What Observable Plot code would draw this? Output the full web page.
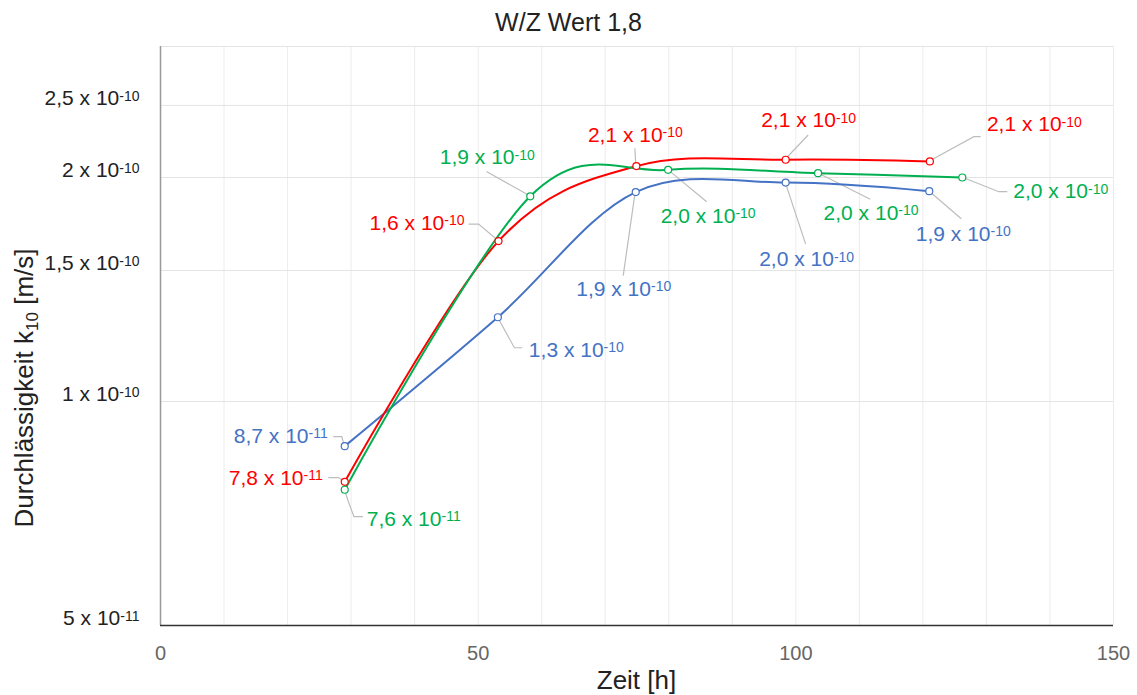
<!DOCTYPE html>
<html><head><meta charset="utf-8">
<script src="https://cdn.jsdelivr.net/npm/d3@7"></script>
<script src="https://cdn.jsdelivr.net/npm/@observablehq/plot@0.6"></script>
<style>
html,body{margin:0;padding:0;background:#fff;}
#title{height:32px;padding-top:8px;text-align:center;font-family:"Liberation Sans",Arial,sans-serif;font-size:25px;line-height:1.149;color:#222;}
</style></head><body>
<div id="title">W/Z Wert 1,8</div>
<div id="chart"></div>
<script>
// ---- data ----
const timeBlue  = [29.0, 53.1, 74.8, 98.4, 121.0];
const kBlue     = [0.871e-10, 1.298e-10, 1.912e-10, 1.969e-10, 1.917e-10];
const timeRed   = [29.0, 53.2, 74.9, 98.4, 121.1];
const kRed      = [0.780e-10, 1.643e-10, 2.072e-10, 2.113e-10, 2.102e-10];
const timeGreen = [29.0, 58.2, 79.9, 103.5, 126.2];
const kGreen    = [0.761e-10, 1.887e-10, 2.048e-10, 2.027e-10, 2.000e-10];

const xTicks = [0, 50, 100, 150];
const xGrid  = [10, 20, 30, 40, 50, 60, 70, 80, 90, 100, 110, 120, 130, 140, 150];
const yTicks = [5e-11, 1e-10, 1.5e-10, 2e-10, 2.5e-10];
const yGrid  = [1e-10, 1.5e-10, 2e-10, 2.5e-10, 3e-10];

// ---- label layout (pixel offsets from the point) ----
const layoutBlue = [
  {dx: -17, dy: -10, anchor: "end",    leader: [[-2.5, -9], [-11, -9]]},
  {dx: 31,  dy: 33,  anchor: "start",  leader: [[17, 31], [25, 31]]},
  {dx: -12, dy: 97,  anchor: "middle", leader: [[-12, 84]]},
  {dx: 21,  dy: 77,  anchor: "middle", leader: [[20.5, 62]]},
  {dx: 34,  dy: 43,  anchor: "middle", leader: [[32.5, 28]]}
];
const layoutRed = [
  {dx: -22, dy: -4,  anchor: "end",    leader: [[-6, -3.7], [-16, -3.7]]},
  {dx: -34, dy: -18, anchor: "end",    leader: [[-19.4, -16.4], [-29.4, -16.4]]},
  {dx: -1,  dy: -31, anchor: "middle", leader: [[-1, -17.4]]},
  {dx: 23,  dy: -39, anchor: "middle", leader: [[23, -24.3]]},
  {dx: 57,  dy: -37, anchor: "start",  leader: [[44.5, -24.3], [51.3, -24.3]]}
];
const layoutGreen = [
  {dx: 22,  dy: 29,  anchor: "start",  leader: [[4, 12], [9.7, 27.4], [18.7, 27.4]]},
  {dx: -43, dy: -39, anchor: "middle", leader: [[-43.3, -24.3]]},
  {dx: 40,  dy: 46,  anchor: "middle", leader: [[39, 32.4]]},
  {dx: 53,  dy: 40,  anchor: "middle", leader: [[52.7, 26.6]]},
  {dx: 51,  dy: 14,  anchor: "start",  leader: [[37, 14.7], [45.5, 14.7]]}
];

const series = [
  {key: "blau",  time: timeBlue,  k: kBlue,  color: "#4472c4", layout: layoutBlue},
  {key: "rot",   time: timeRed,   k: kRed,   color: "#ff0000", layout: layoutRed},
  {key: "gruen", time: timeGreen, k: kGreen, color: "#00b050", layout: layoutGreen}
];

// "mantissa x 10^exp"
function sci(v, trim) {
  const e = Math.floor(Math.log10(v) + 1e-9);
  let m = Math.round(v / Math.pow(10, e) * 10) / 10;
  let ms = (trim && Number.isInteger(m)) ? String(m) : m.toFixed(1);
  return ms.replace(".", ",") + " x 10^" + e;
}

const rows = series.flatMap(s => s.time.map((t, i) => ({key: s.key, x: t, y: s.k[i]})));

const FONT = '"Liberation Sans", Arial, sans-serif';

const marks = [
  Plot.gridX({ticks: xGrid, stroke: "#ececec", strokeOpacity: 1}),
  Plot.gridY({ticks: yGrid, stroke: "#e4e4e4", strokeOpacity: 1}),
  Plot.ruleX([0], {stroke: "#999", strokeWidth: 1.5}),
  Plot.ruleY([5e-11], {stroke: "#333", strokeWidth: 1.5}),
  Plot.axisX({ticks: xTicks, tickSize: 0, tickPadding: 20, color: "#666", fontSize: 20, label: null}),
  Plot.axisY({ticks: yTicks, tickFormat: v => sci(v, true), tickSize: 0, tickPadding: 21, dy: -7, color: "#222", fontSize: 21, label: null}),
  // leader lines
  (index, scales) => {
    const g = d3.create("svg:g").attr("fill", "none").attr("stroke", "#bdbdbd").attr("stroke-width", 1.2);
    for (const s of series) s.time.forEach((t, i) => {
      const px = scales.x(t), py = scales.y(s.k[i]);
      const pts = [[px, py], ...s.layout[i].leader.map(([a, b]) => [px + a, py + b])];
      g.append("path").attr("d", d3.line()(pts));
    });
    return g.node();
  }
];
for (const s of series) {
  marks.push(Plot.line(rows.filter(d => d.key === s.key), {x: "x", y: "y", stroke: s.color, strokeWidth: 2, curve: "cardinal"}));
}
for (const s of series) {
  marks.push(Plot.dot(rows.filter(d => d.key === s.key), {x: "x", y: "y", r: 3.5, fill: "white", stroke: s.color, strokeWidth: 1.2}));
}
for (const s of series) s.time.forEach((t, i) => {
  const L = s.layout[i];
  marks.push(Plot.text([{x: t, y: s.k[i]}], {x: "x", y: "y", text: d => sci(d.y, false), dx: L.dx, dy: L.dy, textAnchor: L.anchor, fill: s.color, fontSize: 21}));
});

const svg = Plot.plot({
  width: 1137,
  height: 655,
  marginTop: 6,
  marginBottom: 70,
  marginLeft: 160,
  marginRight: 24,
  style: {fontFamily: FONT, fontSize: "21px", background: "white", overflow: "visible"},
  x: {domain: [0, 150]},
  y: {type: "log", domain: [5e-11, 3e-10]},
  marks
});

// superscripts
const NS = "http://www.w3.org/2000/svg";
svg.querySelectorAll("text").forEach(t => {
  const s = t.textContent;
  const i = s.indexOf("^");
  if (i < 0) return;
  t.textContent = s.slice(0, i);
  const sp = document.createElementNS(NS, "tspan");
  sp.setAttribute("dy", "-4.5");
  sp.setAttribute("font-size", "14");
  sp.textContent = s.slice(i + 1);
  t.appendChild(sp);
});

// axis titles
const sel = d3.select(svg);
const yt = sel.append("text")
  .attr("transform", "translate(33,348) rotate(-90)")
  .attr("text-anchor", "middle").attr("font-size", 26).attr("fill", "#222").attr("font-family", FONT);
yt.append("tspan").text("Durchlässigkeit k");
yt.append("tspan").attr("font-size", 17).attr("dy", 5).text("10");
yt.append("tspan").attr("dy", -5).text(" [m/s]");
sel.append("text").attr("x", 636.5).attr("y", 649).attr("text-anchor", "middle")
  .attr("font-size", 26).attr("fill", "#222").attr("font-family", FONT).text("Zeit [h]");

document.getElementById("chart").appendChild(svg);
</script></body></html>
